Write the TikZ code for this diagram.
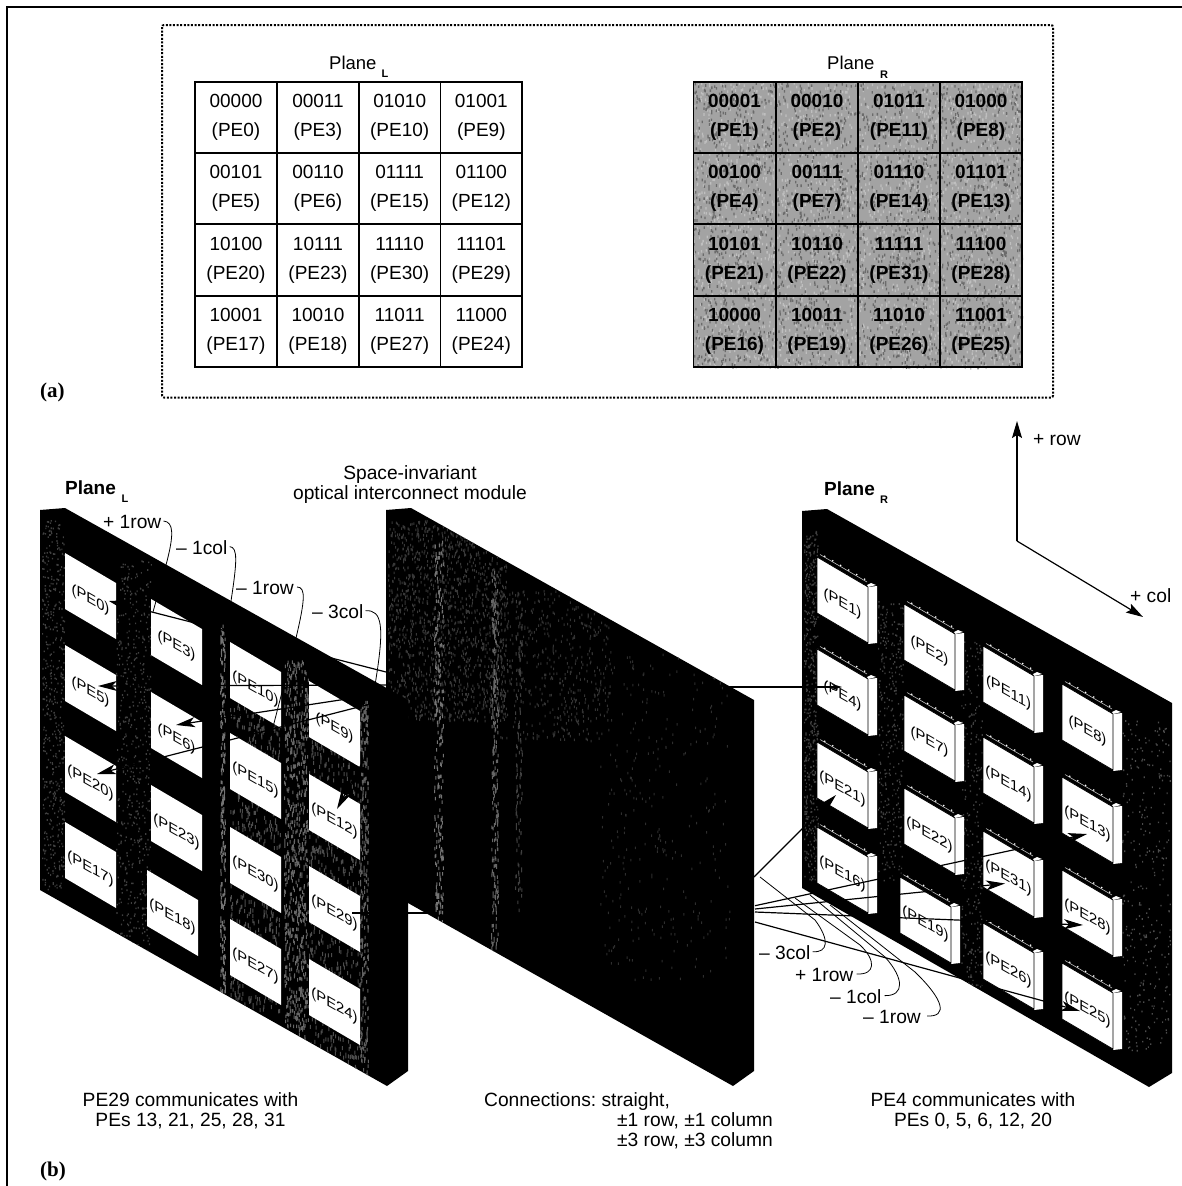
\documentclass[tikz,border=0pt]{standalone}
\usepackage{fontspec}
\setmainfont{Liberation Sans}
\newfontfamily\capserif{Liberation Serif}
\usetikzlibrary{arrows.meta}
\frenchspacing
\tikzset{
  lab/.style={font=\fontsize{19.2}{22}\selectfont,inner sep=0pt,anchor=base},
  labw/.style={lab,anchor=base west},
  titl/.style={labw,font=\fontsize{18.5}{22}\selectfont},
  cellbox/.style={draw=black,line width=1.6pt,inner sep=0pt,minimum height=71.5pt,align=center,
    font=\fontsize{19}{29}\selectfont},
  cellL/.style={cellbox,minimum width=81.7pt},
  cellR/.style={cellbox,minimum width=82pt,font=\fontsize{19}{29}\selectfont\bfseries},
  sub/.style={font=\fontsize{11}{12}\selectfont\bfseries,inner sep=0pt,anchor=base},
  pelabel/.style={font=\fontsize{14.8}{16}\selectfont,inner sep=0pt,transform shape},
  ray/.style={line width=1.2pt},
  arr/.style={ray,-{Stealth[length=19pt,width=10pt,inset=5pt]}},
  arrsmall/.style={ray,-{Stealth[length=10pt,width=6pt,inset=3pt]}},
  leader/.style={line width=0.8pt},
  capt/.style={font=\capserif\fontsize{21}{24}\selectfont\bfseries,inner sep=0pt,anchor=base west},
}
% speckle: colour, x, y, w, h, count, dot w, dot h
\newcommand{\speck}[8]{\fill[#1] foreach \i in {1,...,#6} {({#2+(#4)*rnd},{#3+(#5)*rnd}) rectangle +(#7,#8)};}
% left plane window: x, y, number
\newcommand{\lwin}[3]{%
  \fill[white] (#1,#2) -- ++(51,30) -- ++(0,56) -- ++(-51,-30) -- cycle;
  \begin{scope}[shift={(#1+25.5,#2+47)},yslant=-0.57]
    \node[pelabel] (L#3) {(PE#3)};
  \end{scope}}
% right plane chip: x, y, number
\newcommand{\chip}[3]{%
  \fill[white] (#1+51,#2+30) -- ++(9,-1) -- ++(0,57) -- ++(-9,1) -- cycle;
  \fill[white] (#1+50,#2+28) -- ++(4,-2) -- ++(5,2) -- ++(-8,2) -- cycle;
  \fill[white,draw=black,line width=0.7pt] (#1,#2) -- ++(51,30) -- ++(0,56) -- ++(-51,-30) -- cycle;
  \draw[black!25,line width=0.6pt] (#1+3,#2-2.5) -- (#1+50,#2+25);
  \foreach \t in {0.1,0.27,0.44,0.61,0.78,0.95}{
    \fill[white] ({#1+3+47*\t},{#2-3.5+27*\t}) circle (0.9pt);}
  \begin{scope}[shift={(#1+25.5,#2+47)},yslant=-0.57]
    \node[pelabel] (R#3) {(PE#3)};
  \end{scope}}
\begin{document}
\begin{tikzpicture}[x=1pt,y=-1pt]
\pgfmathsetseed{42}
\useasboundingbox (0,0) rectangle (1182,1186);
\fill[white] (0,0) rectangle (1182,1186);
% outer frame
\draw[line width=1.4pt] (7,1186) -- (7,7) -- (1182,7);
% dotted box
\draw[line width=2pt,dash pattern=on 2pt off 1.6pt,rounded corners=2pt] (162,25) rectangle (1053,397.5);

% ---- part (a)
\node[titl] (pl) at (329,69.5) {Plane};
\node[sub] (plL) at (385,77) {L};
\node[titl] (pr) at (827,69.5) {Plane};
\node[sub] (prR) at (884,78) {R};
\foreach \x/\y/\c/\p [count=\n] in {
 236/117.5/00000/PE0, 318/117.5/00011/PE3, 399.7/117.5/01010/PE10, 481.3/117.5/01001/PE9,
 236/188.5/00101/PE5, 318/188.5/00110/PE6, 399.7/188.5/01111/PE15, 481.3/188.5/01100/PE12,
 236/260/10100/PE20, 318/260/10111/PE23, 399.7/260/11110/PE30, 481.3/260/11101/PE29,
 236/331.5/10001/PE17, 318/331.5/10010/PE18, 399.7/331.5/11011/PE27, 481.3/331.5/11000/PE24}
 {\node[cellL] (cl\n) at (\x,\y) {\c\\(\p)};}
% shaded grid
\fill[black!36] (693,82) rectangle (1022,367);
\speck{white!75!black}{693}{82}{329}{285}{2600}{1.3}{2.6}
\speck{black!58}{693}{82}{329}{285}{2600}{1.3}{2.6}
\foreach \x/\y/\c/\p [count=\n] in {
 734.5/117.5/00001/PE1, 817/117.5/00010/PE2, 899/117.5/01011/PE11, 981/117.5/01000/PE8,
 734.5/188.5/00100/PE4, 817/188.5/00111/PE7, 899/188.5/01110/PE14, 981/188.5/01101/PE13,
 734.5/260/10101/PE21, 817/260/10110/PE22, 899/260/11111/PE31, 981/260/11100/PE28,
 734.5/331.5/10000/PE16, 817/331.5/10011/PE19, 899/331.5/11010/PE26, 981/331.5/11001/PE25}
 {\node[cellR] (cr\n) at (\x,\y) {\c\\(\p)};}
\node[capt] (capa) at (40,397) {(a)};

% ---- part (b): middle panel
\fill[black] (386,510) -- (411,508) -- (754,700) -- (754,1071) -- (733,1086) -- (408,903) -- (386,800) -- cycle;
\begin{scope}
  \clip (386,510) -- (411,508) -- (754,700) -- (754,1071) -- (733,1086) -- (408,903) -- (386,800) -- cycle;
  \speck{black!78}{388}{520}{120}{200}{1500}{1}{2.5}
  \speck{black!80}{500}{590}{110}{150}{500}{1}{2.5}
  \speck{black!55}{434}{540}{9}{440}{300}{1}{3.5}
  \speck{black!60}{491}{570}{7}{410}{280}{1}{3.5}
  \speck{black!75}{515}{590}{7}{320}{120}{1}{3.5}
  \speck{black!82}{600}{650}{130}{330}{300}{1}{2.5}
\end{scope}
% left plane
\fill[black] (40,510) -- (65,508) -- (408,700) -- (408,1071) -- (387,1086) -- (40,890) -- cycle;
\begin{scope}
  \clip (40,510) -- (65,508) -- (387,690) -- (387,1086) -- (40,890) -- cycle;
  \speck{black!75}{42}{520}{22}{370}{500}{1.2}{1.6}
  \speck{black!75}{116}{560}{35}{390}{550}{1.2}{1.6}
  \speck{black!55}{220}{620}{5}{400}{280}{1}{3.5}
  \speck{black!70}{230}{700}{50}{310}{700}{1}{4}
  \speck{black!60}{284}{660}{24}{400}{800}{1}{3.5}
  \speck{black!70}{309}{740}{51}{330}{650}{1}{4}
  \speck{black!62}{360}{700}{8}{390}{300}{1}{3.5}
\end{scope}
\lwin{65}{553}{0}   \lwin{65}{645}{5}   \lwin{65}{736}{20}  \lwin{65}{822}{17}
\lwin{151}{599}{3}  \lwin{151}{692}{6}  \lwin{151}{785}{23} \lwin{147}{870}{18}
\lwin{230}{642}{10} \lwin{230}{733}{15} \lwin{230}{827}{30} \lwin{230}{919}{27}
\lwin{309}{681}{9}  \lwin{309}{774}{12} \lwin{309}{866}{29} \lwin{309}{959}{24}
% right plane
\fill[black] (802,511) -- (827,509) -- (1172,703) -- (1172,1073) -- (1149,1087) -- (802,888) -- cycle;
\begin{scope}
  \clip (802,511) -- (827,509) -- (1172,703) -- (1172,1073) -- (1149,1087) -- (802,888) -- cycle;
  \speck{black!75}{804}{530}{14}{350}{500}{1.2}{1.6}
  \speck{black!75}{878}{600}{25}{280}{320}{1.2}{1.6}
  \speck{black!75}{961}{640}{21}{400}{320}{1.2}{1.6}
  \speck{black!70}{1122}{720}{48}{330}{300}{1.2}{1.6}
\end{scope}
\chip{817}{557}{1}   \chip{817}{649}{4}   \chip{817}{742}{21}  \chip{817}{827}{16}
\chip{904}{604}{2}   \chip{904}{695}{7}   \chip{904}{788}{22}  \chip{900}{877}{19}
\chip{983}{646}{11}  \chip{983}{737}{14}  \chip{983}{831}{31}  \chip{983}{923}{26}
\chip{1062}{684}{8}  \chip{1062}{777}{13} \chip{1062}{870}{28} \chip{1062}{963}{25}

% named ray ends
\coordinate (a0) at (386,672); \coordinate (t0) at (109,601);
\coordinate (a5) at (386,685); \coordinate (t5) at (98,686);
\coordinate (a6) at (386,693); \coordinate (t6) at (176,725);
\coordinate (a20) at (386,700); \coordinate (t20) at (97,774);
\coordinate (a12) at (380,730); \coordinate (t12) at (337,809);
\coordinate (b29) at (352,913); \coordinate (c29) at (430,913);
\coordinate (a4) at (728,687); \coordinate (t4) at (842,687);
\coordinate (a21) at (754,877); \coordinate (t21) at (836,795);
\coordinate (a13) at (755,905.7); \coordinate (t13) at (1087,834);
\coordinate (a31) at (755,909); \coordinate (t31) at (1005,883.5);
\coordinate (a28) at (755,912); \coordinate (t28) at (1083,925);
\coordinate (a25) at (755,922); \coordinate (t25) at (1080,1011);
\foreach \s/\t in {a5/t5,a6/t6,a20/t20,a12/t12,a21/t21,a13/t13,a31/t31,a28/t28,a25/t25}
  {\draw[arr] (\s) -- (\t);}
\draw[arrsmall] (a0) -- (t0);
\draw[arrsmall] (a4) -- (t4);
\draw[ray] (b29) -- (c29);

% leaders, left
\node[labw] (ll1) at (103,528.5) {+ 1row};
\node[labw] (ll2) at (176,554.5) {– 1col};
\node[labw] (ll3) at (236,594.5) {– 1row};
\node[labw] (ll4) at (312,618.5) {– 3col};
\draw[leader] ([xshift=2pt,yshift=1pt]ll1.east) .. controls (174,522) and (174,535) .. (166,565) -- (153,612);
\draw[leader] ([xshift=2pt,yshift=1pt]ll2.east) .. controls (238,547) and (237,562) .. (231,601);
\draw[leader] ([xshift=3pt,yshift=1pt]ll3.east) .. controls (306,587) and (305,600) .. (296,638) -- (273,727);
\draw[leader] ([xshift=2pt,yshift=1pt]ll4.east) .. controls (382,610) and (385,625) .. (375,685);
% leaders, right
\node[labw] (lr1) at (759,959.5) {– 3col};
\node[labw] (lr2) at (795,981.5) {+ 1row};
\node[labw] (lr3) at (830,1003.5) {– 1col};
\node[labw] (lr4) at (863,1023.5) {– 1row};
\draw[leader] ([xshift=2pt,yshift=1pt]lr1.east) .. controls (828,953) and (830,940) .. (815,920) -- (760,877);
\draw[leader] ([xshift=3pt,yshift=1pt]lr2.east) .. controls (876,975) and (876,960) .. (860,945) -- (795,898);
\draw[leader] ([xshift=3pt,yshift=1pt]lr3.east) .. controls (905,996) and (904,978) .. (885,957) -- (810,895);
\draw[leader] ([xshift=6pt,yshift=1pt]lr4.east) .. controls (948,1017) and (944,1000) .. (915,972) -- (830,905);

% titles
\node[labw,font=\fontsize{19}{22}\selectfont\bfseries] (ptl) at (65,494.5) {Plane};
\node[sub] (ptls) at (125,502) {L};
\node[labw,font=\fontsize{19}{22}\selectfont\bfseries] (ptr) at (824,495.5) {Plane};
\node[sub] (ptrs) at (884,503) {R};
\node[lab] (si1) at (410,479.5) {Space-invariant};
\node[lab] (si2) at (410,499.5) {optical interconnect module};

% axes
\coordinate (o) at (1017,541); \coordinate (up) at (1017,421); \coordinate (rt) at (1143,617);
\draw[ray,-{Stealth[length=17pt,width=10pt,inset=3pt]}] (o) -- (up);
\draw[ray,-{Stealth[length=17pt,width=10pt,inset=3pt]}] (o) -- (rt);
\node[labw] (axr) at (1033,445) {+ row};
\node[labw] (axc) at (1130,602) {+ col};

% captions
\node[lab] (c11) at (190.5,1106) {PE29 communicates with};
\node[lab] (c12) at (190.5,1126) {PEs 13, 21, 25, 28, 31};
\node[labw] (c21) at (484,1106) {Connections: straight,};
\node[labw] (c22) at (617,1126) {±1 row, ±1 column};
\node[labw] (c23) at (617,1146) {±3 row, ±3 column};
\node[lab] (c31) at (973,1106) {PE4 communicates with};
\node[lab] (c32) at (973,1126) {PEs 0, 5, 6, 12, 20};
\node[capt] (capb) at (40,1176) {(b)};
\end{tikzpicture}
\end{document}
